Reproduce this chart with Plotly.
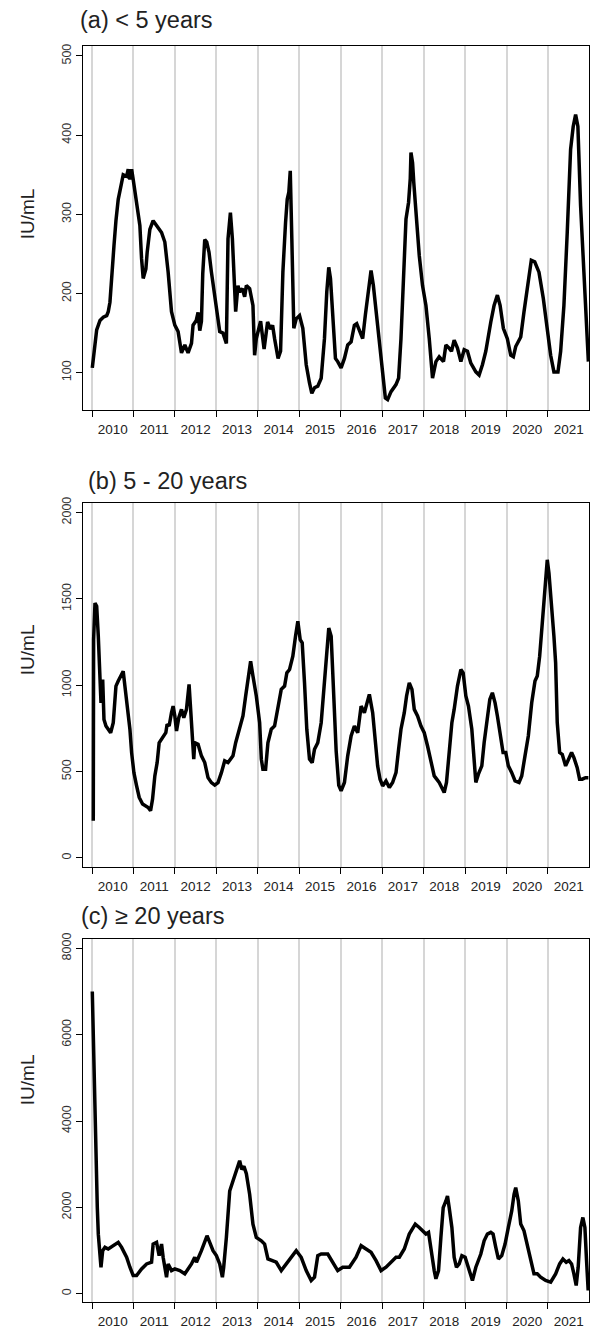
import plotly.graph_objects as go

# Weekly mean antibody titres (IU/mL) by age group, as decimal years
years_a = [2010.007, 2010.072, 2010.113, 2010.193, 2010.272, 2010.354, 2010.392, 2010.433, 2010.474, 2010.530,
           2010.578, 2010.633, 2010.715, 2010.753, 2010.835, 2010.874, 2010.915, 2010.956, 2010.994, 2011.076,
           2011.155, 2011.196, 2011.235, 2011.300, 2011.331, 2011.396, 2011.475, 2011.557, 2011.678, 2011.757,
           2011.837, 2011.918, 2011.998, 2012.077, 2012.118, 2012.159, 2012.239, 2012.318, 2012.400, 2012.438,
           2012.515, 2012.559, 2012.600, 2012.640, 2012.672, 2012.720, 2012.768, 2012.823, 2012.881, 2012.961,
           2013.040, 2013.081, 2013.160, 2013.242, 2013.281, 2013.339, 2013.387, 2013.418, 2013.466, 2013.521,
           2013.562, 2013.627, 2013.683, 2013.724, 2013.803, 2013.883, 2013.923, 2013.964, 2014.068, 2014.152,
           2014.236, 2014.309, 2014.357, 2014.405, 2014.489, 2014.549, 2014.605, 2014.670, 2014.710, 2014.749,
           2014.783, 2014.821, 2014.845, 2014.869, 2014.927, 2015.007, 2015.086, 2015.168, 2015.247, 2015.303,
           2015.368, 2015.447, 2015.529, 2015.608, 2015.664, 2015.712, 2015.753, 2015.808, 2015.873, 2015.928,
           2016.010, 2016.090, 2016.169, 2016.251, 2016.330, 2016.386, 2016.451, 2016.530, 2016.595, 2016.675,
           2016.732, 2016.788, 2016.853, 2016.932, 2017.012, 2017.077, 2017.132, 2017.214, 2017.334, 2017.397,
           2017.454, 2017.510, 2017.575, 2017.637, 2017.678, 2017.695, 2017.734, 2017.763, 2017.830, 2017.895,
           2017.974, 2018.056, 2018.136, 2018.215, 2018.297, 2018.376, 2018.480, 2018.538, 2018.617, 2018.672,
           2018.737, 2018.817, 2018.899, 2018.978, 2019.058, 2019.139, 2019.260, 2019.339, 2019.419, 2019.500,
           2019.621, 2019.700, 2019.780, 2019.845, 2019.924, 2020.020, 2020.102, 2020.165, 2020.222, 2020.343,
           2020.422, 2020.518, 2020.598, 2020.680, 2020.783, 2020.887, 2020.983, 2021.065, 2021.144, 2021.241,
           2021.306, 2021.385, 2021.465, 2021.546, 2021.609, 2021.667, 2021.722, 2021.787, 2021.867, 2021.946,
           2021.975]
iu_a = [106, 135, 154, 166, 170, 172, 177, 189, 227, 260,
        292, 319, 340, 350, 348, 357, 344, 357, 344, 315,
        286, 244, 219, 231, 252, 281, 292, 286, 277, 265,
        227, 177, 160, 152, 139, 125, 135, 125, 137, 160,
        166, 176, 153, 165, 225, 268, 265, 252, 227, 194,
        168, 152, 150, 137, 269, 302, 269, 227, 177, 210,
        202, 206, 196, 210, 206, 185, 122, 143, 165, 130,
        164, 155, 160, 143, 118, 127, 227, 290, 319, 328,
        355, 269, 198, 156, 168, 172, 156, 110, 87, 74,
        81, 83, 93, 143, 202, 233, 219, 177, 118, 114,
        106, 118, 135, 139, 160, 162, 152, 143, 173, 206,
        229, 210, 177, 135, 101, 68, 66, 76, 85, 93,
        143, 227, 294, 315, 345, 378, 365, 340, 290, 248,
        210, 185, 143, 93, 114, 120, 114, 135, 131, 127,
        141, 131, 114, 129, 127, 112, 101, 97, 110, 127,
        164, 185, 198, 185, 156, 143, 122, 120, 133, 145,
        177, 215, 242, 240, 227, 194, 152, 122, 101, 101,
        127, 185, 277, 382, 411, 426, 411, 311, 227, 143,
        114]

years_b = [2010.031, 2010.039, 2010.072, 2010.113, 2010.152, 2010.193, 2010.217, 2010.258, 2010.289, 2010.337,
           2010.392, 2010.450, 2010.513, 2010.578, 2010.633, 2010.691, 2010.753, 2010.794, 2010.850, 2010.915,
           2010.956, 2011.011, 2011.076, 2011.139, 2011.220, 2011.300, 2011.355, 2011.413, 2011.461, 2011.516,
           2011.572, 2011.620, 2011.678, 2011.733, 2011.781, 2011.812, 2011.861, 2011.918, 2011.957, 2011.998,
           2012.039, 2012.094, 2012.159, 2012.214, 2012.279, 2012.342, 2012.383, 2012.424, 2012.455, 2012.479,
           2012.559, 2012.640, 2012.720, 2012.799, 2012.881, 2012.961, 2013.040, 2013.122, 2013.201, 2013.281,
           2013.401, 2013.466, 2013.545, 2013.642, 2013.707, 2013.762, 2013.827, 2013.883, 2013.964, 2014.044,
           2014.085, 2014.123, 2014.188, 2014.244, 2014.325, 2014.405, 2014.484, 2014.566, 2014.646, 2014.701,
           2014.766, 2014.845, 2014.910, 2014.966, 2015.023, 2015.071, 2015.127, 2015.182, 2015.247, 2015.312,
           2015.368, 2015.447, 2015.529, 2015.584, 2015.649, 2015.712, 2015.770, 2015.825, 2015.890, 2015.953,
           2016.010, 2016.090, 2016.169, 2016.251, 2016.330, 2016.410, 2016.492, 2016.571, 2016.627, 2016.691,
           2016.771, 2016.836, 2016.891, 2016.949, 2017.012, 2017.093, 2017.173, 2017.252, 2017.334, 2017.397,
           2017.454, 2017.534, 2017.589, 2017.654, 2017.719, 2017.775, 2017.854, 2017.936, 2018.015, 2018.095,
           2018.176, 2018.256, 2018.376, 2018.497, 2018.552, 2018.617, 2018.682, 2018.737, 2018.817, 2018.899,
           2018.954, 2019.019, 2019.082, 2019.163, 2019.219, 2019.260, 2019.322, 2019.404, 2019.460, 2019.539,
           2019.597, 2019.659, 2019.724, 2019.780, 2019.861, 2019.917, 2019.982, 2020.044, 2020.126, 2020.206,
           2020.302, 2020.367, 2020.446, 2020.526, 2020.608, 2020.687, 2020.742, 2020.800, 2020.863, 2020.928,
           2020.983, 2021.024, 2021.089, 2021.144, 2021.185, 2021.224, 2021.282, 2021.344, 2021.426, 2021.488,
           2021.570, 2021.626, 2021.705, 2021.763, 2021.826, 2021.907, 2021.975]
iu_b = [215, 1264, 1476, 1457, 1283, 1091, 898, 1033, 802, 764,
        745, 725, 783, 995, 1024, 1053, 1081, 995, 879, 745,
        610, 494, 417, 350, 312, 302, 292, 273, 341, 475,
        552, 667, 687, 706, 725, 774, 764, 841, 879, 822,
        735, 812, 860, 812, 860, 1005, 860, 706, 572, 667,
        658, 591, 552, 465, 436, 422, 436, 494, 562, 552,
        591, 667, 745, 822, 938, 1033, 1139, 1053, 938, 783,
        572, 514, 514, 667, 745, 764, 879, 976, 995, 1072,
        1091, 1168, 1283, 1370, 1264, 1245, 1014, 745, 572, 552,
        629, 667, 783, 938, 1149, 1331, 1283, 1014, 620, 420,
        389, 437, 591, 706, 764, 725, 879, 841, 898, 947,
        841, 648, 533, 456, 417, 446, 408, 437, 494, 629,
        745, 841, 938, 1014, 976, 860, 822, 764, 725, 648,
        552, 475, 437, 379, 437, 591, 783, 860, 995, 1091,
        1072, 938, 879, 745, 591, 437, 485, 533, 667, 822,
        918, 956, 898, 822, 706, 610, 610, 533, 494, 446,
        437, 475, 591, 706, 898, 1024, 1053, 1168, 1360, 1572,
        1726, 1649, 1476, 1283, 1129, 783, 610, 600, 533, 572,
        610, 581, 523, 456, 456, 465, 465]

years_c = [2010.007, 2010.031, 2010.048, 2010.072, 2010.096, 2010.113, 2010.128, 2010.152, 2010.193, 2010.217,
           2010.258, 2010.313, 2010.392, 2010.513, 2010.633, 2010.715, 2010.835, 2010.915, 2010.994, 2011.076,
           2011.196, 2011.317, 2011.437, 2011.475, 2011.557, 2011.620, 2011.678, 2011.716, 2011.798, 2011.837,
           2011.918, 2011.998, 2012.118, 2012.239, 2012.318, 2012.400, 2012.479, 2012.520, 2012.640, 2012.720,
           2012.775, 2012.840, 2012.920, 2013.001, 2013.081, 2013.146, 2013.177, 2013.242, 2013.281, 2013.322,
           2013.401, 2013.483, 2013.562, 2013.611, 2013.666, 2013.724, 2013.803, 2013.883, 2013.964, 2014.085,
           2014.164, 2014.244, 2014.364, 2014.446, 2014.566, 2014.686, 2014.807, 2014.927, 2015.047, 2015.168,
           2015.288, 2015.368, 2015.447, 2015.529, 2015.688, 2015.808, 2015.928, 2016.049, 2016.210, 2016.371,
           2016.492, 2016.612, 2016.732, 2016.853, 2016.973, 2017.093, 2017.252, 2017.334, 2017.414, 2017.534,
           2017.654, 2017.799, 2017.895, 2017.974, 2018.056, 2018.119, 2018.176, 2018.256, 2018.297, 2018.360,
           2018.417, 2018.473, 2018.538, 2018.576, 2018.617, 2018.682, 2018.737, 2018.793, 2018.858, 2018.923,
           2019.002, 2019.098, 2019.178, 2019.260, 2019.380, 2019.460, 2019.539, 2019.621, 2019.676, 2019.741,
           2019.804, 2019.885, 2019.965, 2020.044, 2020.126, 2020.182, 2020.222, 2020.285, 2020.343, 2020.422,
           2020.478, 2020.526, 2020.583, 2020.663, 2020.742, 2020.824, 2020.944, 2021.065, 2021.185, 2021.282,
           2021.361, 2021.441, 2021.505, 2021.570, 2021.626, 2021.681, 2021.729, 2021.787, 2021.842, 2021.891,
           2021.931, 2021.970]
iu_c = [7000, 6000, 4800, 3800, 3000, 2600, 2000, 1380, 1000, 614,
        998, 1075, 1037, 1113, 1191, 1075, 845, 614, 422, 422,
        576, 691, 730, 1152, 1191, 883, 1152, 845, 384, 691,
        537, 576, 537, 461, 576, 691, 845, 730, 998, 1228,
        1343, 1191, 998, 883, 691, 384, 614, 1306, 1997, 2380,
        2610, 2850, 3080, 2880, 2950, 2780, 2304, 1613, 1306, 1228,
        1152, 806, 768, 730, 537, 691, 845, 998, 845, 537,
        307, 384, 883, 921, 921, 730, 537, 614, 614, 845,
        1113, 1037, 960, 768, 537, 614, 768, 845, 845, 1037,
        1382, 1613, 1536, 1459, 1382, 1421, 998, 537, 346, 537,
        1306, 1997, 2150, 2265, 1997, 1536, 845, 614, 691, 883,
        845, 537, 307, 614, 921, 1228, 1382, 1421, 1382, 1075,
        806, 883, 1152, 1536, 1919, 2304, 2458, 2150, 1613, 1459,
        1228, 998, 768, 461, 461, 384, 307, 269, 461, 691,
        806, 730, 768, 691, 461, 192, 614, 1536, 1766, 1536,
        768, 76]

panel_titles = ["(a) < 5 years", "(b) 5 - 20 years", "(c) \u2265 20 years"]
y_ranges = [[52.9, 512.6], [-54, 2056], [-191, 8216]]
y_tickvals = [[100, 200, 300, 400, 500],
              [0, 500, 1000, 1500, 2000],
              [0, 2000, 4000, 6000, 8000]]
year_labels = list(range(2010, 2022))
year_bounds = list(range(2010, 2023))
x_range = [2009.783, 2021.99]

series = [(years_a, iu_a), (years_b, iu_b), (years_c, iu_c)]

# Page geometry (pixels)
W, H = 590, 1329
M_L, M_R, M_T, M_B = 83, 0, 46, 21
plot_h = H - M_T - M_B
plot_w = W - M_L - M_R
panel_px = [(46, 411.7), (505, 871.2), (943.3, 1308)]


def py_to_paper(py):
    return (H - M_B - py) / plot_h


def px_to_paper(px):
    return (px - M_L) / plot_w


FONT = "Liberation Sans, Arial, sans-serif"
fig = go.Figure()
layout = dict(
    width=W, height=H,
    margin=dict(l=M_L, r=M_R, t=M_T, b=M_B, pad=0),
    plot_bgcolor="white", paper_bgcolor="white",
    showlegend=False,
    font=dict(family=FONT, color="#222222"),
    annotations=[],
)

for i, (xs, ys) in enumerate(series):
    n = "" if i == 0 else str(i + 1)
    fig.add_trace(go.Scatter(
        x=xs, y=ys, mode="lines",
        line=dict(color="black", width=3.5),
        xaxis="x" + n, yaxis="y" + n, hoverinfo="skip",
    ))
    top, bottom = panel_px[i]
    layout["xaxis" + n] = dict(
        domain=[0, 1], anchor="y" + n, range=x_range,
        tickmode="array",
        tickvals=[y + 0.5 for y in year_labels],
        ticktext=[str(y) for y in year_labels],
        ticks="outside", ticklen=7, tickcolor="rgba(0,0,0,0)",
        tickfont=dict(size=13.5, color="#222222"),
        showgrid=False, zeroline=False,
        showline=True, linecolor="black", linewidth=1, mirror=True,
        minor=dict(tickmode="array", tickvals=year_bounds,
                   ticks="outside", ticklen=6, tickwidth=1, tickcolor="black",
                   showgrid=True, gridcolor="#d6d6d6", gridwidth=1.6),
    )
    layout["yaxis" + n] = dict(
        domain=[py_to_paper(bottom), py_to_paper(top)], anchor="x" + n,
        range=y_ranges[i],
        tickmode="array", tickvals=y_tickvals[i],
        ticktext=[str(v) for v in y_tickvals[i]],
        tickangle=-90,
        ticks="outside", ticklen=6, tickwidth=1, tickcolor="black",
        tickfont=dict(size=12.5, color="#333333"),
        showgrid=False, zeroline=False,
        showline=True, linecolor="black", linewidth=1, mirror=True,
    )

title_pos = [(78, 20), (86, 483), (79, 920)]
ylab_pos = [(27, 215), (27, 653), (27, 1085)]
for i in range(3):
    tx, ty = title_pos[i]
    layout["annotations"].append(dict(
        text=panel_titles[i], xref="paper", yref="paper",
        x=px_to_paper(tx), y=py_to_paper(ty), xanchor="left", yanchor="middle",
        showarrow=False, font=dict(size=23.5, color="#222222", family=FONT),
    ))
    lx, ly = ylab_pos[i]
    layout["annotations"].append(dict(
        text="IU/mL", xref="paper", yref="paper", textangle=-90,
        x=px_to_paper(lx), y=py_to_paper(ly), xanchor="center", yanchor="middle",
        showarrow=False, font=dict(size=19, color="#222222", family=FONT),
    ))

fig.update_layout(**layout)
fig.write_html("out.html")
